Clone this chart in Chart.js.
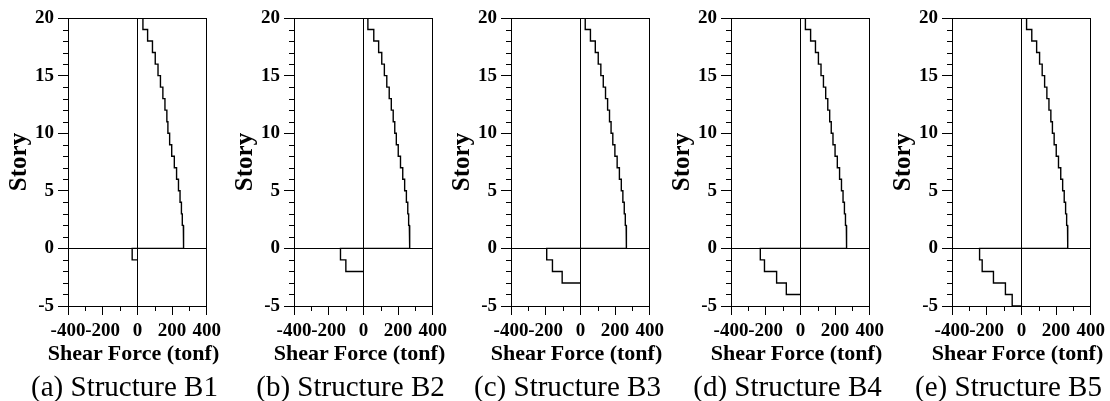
<!DOCTYPE html>
<html><head><meta charset="utf-8">
<script src="https://cdn.jsdelivr.net/npm/chart.js@4/dist/chart.umd.min.js"></script>
<style>
html,body{margin:0;padding:0;background:#fff;width:1110px;height:401px;overflow:hidden;}
.p{position:absolute;top:0;width:226px;height:401px;}
canvas{display:block;}
.lbl{position:absolute;transform:translate(-50%,-50%);white-space:nowrap;line-height:1;color:#000;
     font-family:'Liberation Serif','Times New Roman',serif;}
.xt{font-size:22px;font-weight:bold;}
.cap{font-size:29px;font-weight:normal;}
</style></head><body>
<div class="p" style="left:0px"><canvas id="c0" width="226" height="401"></canvas></div>
<div class="p" style="left:226px"><canvas id="c1" width="226" height="401"></canvas></div>
<div class="p" style="left:443px"><canvas id="c2" width="226" height="401"></canvas></div>
<div class="p" style="left:663px"><canvas id="c3" width="226" height="401"></canvas></div>
<div class="p" style="left:884px"><canvas id="c4" width="226" height="401"></canvas></div>
<script>
// ---- data ----
const stories = [1,2,3,4,5,6,7,8,9,10,11,12,13,14,15,16,17,18,19,20];
const basementLevels = [-1,-2,-3,-4,-5];
// shear force (tonf) of stories 1..20
const shearB1 = [267,265,259,254,246,237,226,213,198,186,176,170,159,147,133,119,103,87,59,32];
const shearB2 = [268,265,261,256,248,238,227,214,201,190,181,172,161,149,135,121,106,88,60,26];
const shearB3 = [266,264,259,253,245,236,225,212,199,187,177,168,157,145,132,118,103,86,58,28];
const shearB4 = [267,265,260,254,246,237,226,213,200,188,178,169,158,146,133,119,104,87,59,29];
const shearB5 = [268,266,261,255,247,238,227,214,201,189,179,170,159,147,134,120,105,88,60,30];
// basement shear force (tonf) of B1, B2, ... levels
const baseB1 = [-30];
const baseB2 = [-132,-101];
const baseB3 = [-194,-161,-105];
const baseB4 = [-231,-207,-137,-81];
const baseB5 = [-241,-226,-161,-92,-53];
const captions = ['(a) Structure B1','(b) Structure B2','(c) Structure B3','(d) Structure B4','(e) Structure B5'];
const xTitle = 'Shear Force (tonf)';
const yTitle = 'Story';
const xMin = -400, xMax = 400, xStep = 200, xMinorStep = 100;
const yMin = -5, yMax = 20, yStep = 5, yMinorStep = 1;

const upperSets = [shearB1, shearB2, shearB3, shearB4, shearB5];
const baseSets = [baseB1, baseB2, baseB3, baseB4, baseB5];

// layout (pixels)
const panelLeft = [0, 226, 443, 663, 884];
const axisOffset = 68;

function upperPoints(v){
  const pts = [];
  for (let i = stories.length - 1; i >= 0; i--) {
    pts.push({x: v[i], y: stories[i]});
    pts.push({x: v[i], y: stories[i] - 1});
  }
  pts.push({x: 0, y: 0});
  return pts;
}
function basePoints(b){
  const pts = [{x: 0, y: 0}];
  for (let i = 0; i < b.length; i++) {
    pts.push({x: b[i], y: basementLevels[i] + 1});
    pts.push({x: b[i], y: basementLevels[i]});
  }
  pts.push({x: 0, y: basementLevels[b.length - 1]});
  return pts;
}

const SERIF = "'Liberation Serif','Times New Roman',serif";

const minorTicks = {
  id: 'minorTicks',
  afterDraw(chart){
    const {ctx, scales:{x, y}} = chart;
    ctx.save();
    ctx.strokeStyle = '#000';
    ctx.lineWidth = 1;
    ctx.beginPath();
    for (let v = xMin; v <= xMax; v += xMinorStep) {
      if (v % xStep === 0) continue;
      const px = Math.round(x.getPixelForValue(v)) + 0.5;
      ctx.moveTo(px, y.bottom);
      ctx.lineTo(px, y.bottom + 5);
    }
    for (let v = yMin; v <= yMax; v += yMinorStep) {
      if (v % yStep === 0) continue;
      const py = Math.round(y.getPixelForValue(v)) + 0.5;
      ctx.moveTo(x.left - 5, py);
      ctx.lineTo(x.left, py);
    }
    ctx.stroke();
    ctx.restore();
  }
};

const edgeX = [xMin, 0, xMax];
const edgeY = [yMin, 0, yMax];

for (let k = 0; k < 5; k++) {
  new Chart(document.getElementById('c' + k), {
    type: 'scatter',
    data: {
      datasets: [
        {data: upperPoints(upperSets[k]), showLine: true, borderColor: '#000', borderWidth: 1.4, pointRadius: 0, fill: false, tension: 0},
        {data: basePoints(baseSets[k]), showLine: true, borderColor: '#000', borderWidth: 1.4, pointRadius: 0, fill: false, tension: 0}
      ]
    },
    options: {
      responsive: false,
      animation: false,
      devicePixelRatio: 1,
      layout: {padding: {top: 18, right: 14, bottom: 55, left: 0}},
      plugins: {
        legend: {display: false},
        tooltip: {enabled: false},
        title: {display: false}
      },
      scales: {
        x: {
          type: 'linear', min: xMin, max: xMax,
          ticks: {stepSize: xStep, autoSkip: false, maxRotation: 0, color: '#000', padding: 5,
                  font: {family: SERIF, size: 19, weight: 'bold'}},
          grid: {
            color: c => (c.tick && edgeX.includes(c.tick.value)) ? '#000' : 'rgba(0,0,0,0)',
            tickColor: '#000', tickLength: 9, lineWidth: 1, drawOnChartArea: true
          },
          border: {display: true, color: '#000', width: 1},
          title: {display: false},
          afterFit: s => { s.height = 40; }
        },
        y: {
          type: 'linear', min: yMin, max: yMax,
          ticks: {stepSize: yStep, autoSkip: false, color: '#000', padding: 4,
                  font: {family: SERIF, size: 19, weight: 'bold'}},
          grid: {
            color: c => (c.tick && edgeY.includes(c.tick.value)) ? '#000' : 'rgba(0,0,0,0)',
            tickColor: '#000', tickLength: 10, lineWidth: 1, drawOnChartArea: true
          },
          border: {display: true, color: '#000', width: 1},
          title: {display: true, text: yTitle, color: '#000', padding: {top: 5, bottom: 0},
                  font: {family: SERIF, size: 25, weight: 'bold'}},
          afterFit: s => { s.width = axisOffset; }
        }
      }
    },
    plugins: [minorTicks]
  });

  // x-axis title and panel caption as text
  const xt = document.createElement('div');
  xt.className = 'lbl xt';
  xt.textContent = xTitle;
  xt.style.left = (panelLeft[k] + axisOffset + 65.5) + 'px';
  xt.style.top = '353px';
  document.body.appendChild(xt);

  const cap = document.createElement('div');
  cap.className = 'lbl cap';
  cap.textContent = captions[k];
  cap.style.left = (panelLeft[k] + axisOffset + 56.5) + 'px';
  cap.style.top = '386px';
  document.body.appendChild(cap);
}
</script>
</body></html>
